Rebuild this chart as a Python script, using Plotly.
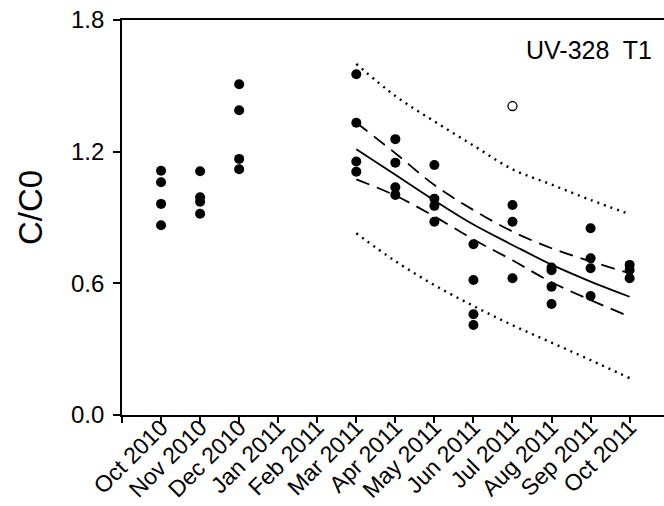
import plotly.graph_objects as go

# Month labels (index 1..13), index 0 = origin tick without label
month_labels = ["", "Oct 2010", "Nov 2010", "Dec 2010", "Jan 2011", "Feb 2011", "Mar 2011",
                "Apr 2011", "May 2011", "Jun 2011", "Jul 2011", "Aug 2011", "Sep 2011", "Oct 2011"]

# Observed C/C0 values per month index
obs_month = [1, 1, 1, 1,
             2, 2, 2, 2,
             3, 3, 3, 3,
             6, 6, 6, 6,
             7, 7, 7, 7,
             8, 8, 8, 8,
             9, 9, 9, 9,
             10, 10, 10,
             11, 11, 11, 11,
             12, 12, 12, 12,
             13, 13, 13]
obs_value = [1.113, 1.061, 0.962, 0.865,
             1.111, 0.992, 0.972, 0.917,
             1.507, 1.389, 1.167, 1.120,
             1.553, 1.332, 1.155, 1.109,
             1.257, 1.150, 1.038, 1.003,
             1.139, 0.986, 0.953, 0.881,
             0.778, 0.615, 0.459, 0.410,
             0.957, 0.881, 0.623,
             0.672, 0.660, 0.585, 0.506,
             0.851, 0.714, 0.669, 0.542,
             0.684, 0.661, 0.623]

# Outlier (open circle)
outlier_month = [10]
outlier_value = [1.408]

# Regression fit and bands (Mar 2011 .. Oct 2011)
fit_month = [6, 7, 8, 9, 10, 11, 12, 13]
fit_value = [1.211, 1.095, 0.978, 0.868, 0.775, 0.685, 0.608, 0.539]
ci_upper = [1.332, 1.193, 1.048, 0.934, 0.836, 0.760, 0.700, 0.646]
ci_lower = [1.074, 1.000, 0.905, 0.800, 0.705, 0.605, 0.524, 0.448]
pi_upper = [1.600, 1.454, 1.338, 1.228, 1.120, 1.050, 0.980, 0.915]
pi_lower = [0.828, 0.701, 0.592, 0.497, 0.409, 0.330, 0.250, 0.168]

y_ticks = [0.0, 0.6, 1.2, 1.8]
y_tick_text = ["0.0", "0.6", "1.2", "1.8"]

FONT = "Liberation Sans, Arial, sans-serif"

fig = go.Figure()

def add_line(y, dash, width):
    fig.add_trace(go.Scatter(x=fit_month, y=y, mode="lines",
                             line=dict(color="black", width=width, dash=dash, shape="spline"),
                             showlegend=False, hoverinfo="skip"))

add_line(pi_upper, "2px,5px", 2.4)
add_line(pi_lower, "2px,5px", 2.4)
add_line(ci_upper, "14px,8px", 1.8)
add_line(ci_lower, "14px,8px", 1.8)
add_line(fit_value, "solid", 1.8)

fig.add_trace(go.Scatter(x=obs_month, y=obs_value, mode="markers",
                         marker=dict(color="black", size=10, symbol="circle"),
                         showlegend=False))
fig.add_trace(go.Scatter(x=outlier_month, y=outlier_value, mode="markers",
                         marker=dict(color="white", size=9, symbol="circle",
                                     line=dict(color="black", width=1.3)),
                         showlegend=False))

fig.add_annotation(x=1, y=1, xref="paper", yref="paper", xanchor="right", yanchor="top",
                   xshift=-10, yshift=-14, text="UV-328  T1", showarrow=False,
                   font=dict(family=FONT, size=25, color="black"))

# y-axis title placed as rotated text
fig.add_annotation(x=0, y=0.943, xref="paper", yref="y", xanchor="center", yanchor="middle",
                   xshift=-92, text="C/C0", textangle=-90, showarrow=False,
                   font=dict(family=FONT, size=33, color="black"))

fig.update_layout(
    width=664, height=506,
    margin=dict(l=122, r=0, t=20, b=91),
    paper_bgcolor="white", plot_bgcolor="white",
    font=dict(family=FONT, color="black"),
    xaxis=dict(range=[0, 13.88], tickmode="array", tickvals=list(range(14)),
               ticktext=month_labels, tickangle=-45, ticks="outside", ticklen=6,
               tickwidth=1.5, tickcolor="black", showline=True, linecolor="black",
               linewidth=1.8, mirror=True, showgrid=False, zeroline=False,
               ticklabelstandoff=-18, automargin=False,
               tickfont=dict(family=FONT, size=23, color="black")),
    yaxis=dict(range=[0, 1.8], tickmode="array", tickvals=y_ticks, ticktext=y_tick_text,
               ticks="outside", ticklen=7, tickwidth=1.5, tickcolor="black",
               showline=True, linecolor="black", linewidth=1.8, showgrid=False,
               zeroline=False, automargin=False, ticklabelstandoff=4,
               tickfont=dict(family=FONT, size=24, color="black")),
)

fig.write_html("out.html", config={"displayModeBar": False},
               post_script="document.body.style.margin='0';")
